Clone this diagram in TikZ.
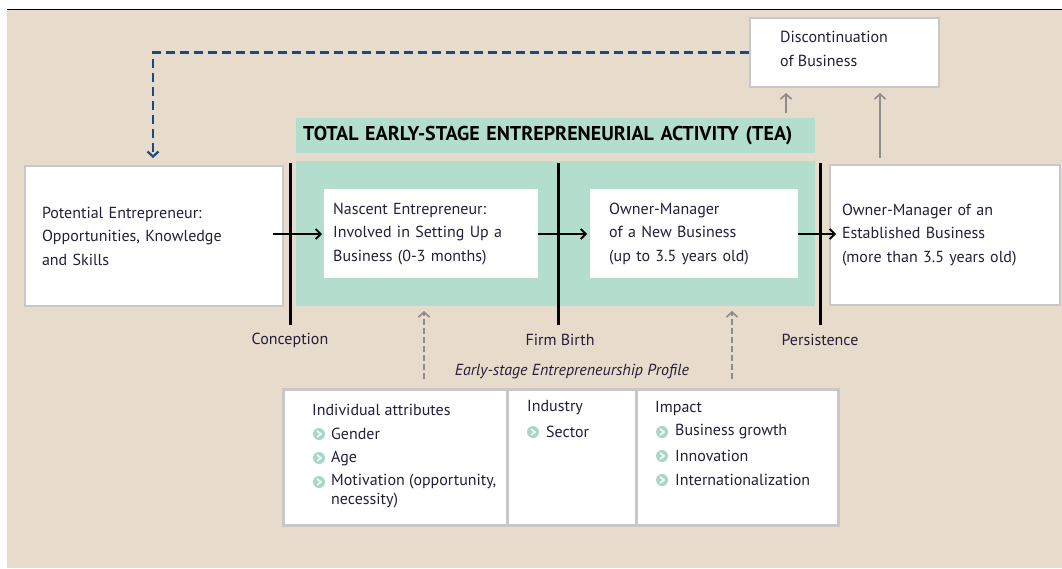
\documentclass[tikz,border=0pt]{standalone}
\usepackage{fontspec}
\setmainfont{PT Sans}
\usetikzlibrary{arrows.meta}
\definecolor{beige}{RGB}{231,220,203}
\definecolor{mint}{RGB}{179,222,206}
\definecolor{bul}{RGB}{168,216,197}
\definecolor{boxgray}{RGB}{200,200,200}
\definecolor{ink}{RGB}{38,30,58}
\definecolor{navy}{RGB}{28,74,128}
\definecolor{arrgray}{RGB}{140,140,140}
\tikzset{
  mainfont/.style={font=\fontsize{16}{23.5}\selectfont, text=ink},
  framebox/.style={mainfont, draw=boxgray, line width=2pt, fill=white, align=left, anchor=north west, inner ysep=0pt},
  plainbox/.style={mainfont, fill=white, align=left, anchor=north west, inner ysep=0pt},
  band/.style={fill=mint, anchor=north west, inner sep=0pt},
  txt/.style={mainfont, anchor=west, inner sep=0pt},
  lbl/.style={mainfont, inner sep=0pt},
  stage/.style={line width=3pt, black},
  flow/.style={line width=1.8pt, black, -{Straight Barb[length=5pt,width=10pt,line width=1.8pt]}},
  uparrow/.style={line width=1.6pt, arrgray, -{Straight Barb[length=5pt,width=11pt,line width=1.6pt]}},
  backloop/.style={line width=2.5pt, navy, dash pattern=on 9pt off 5pt, -{Straight Barb[length=5pt,width=11pt,line width=2.2pt]}},
  profarrow/.style={line width=1.6pt, arrgray, dash pattern=on 6pt off 3pt, -{Straight Barb[length=5pt,width=11pt,line width=1.6pt]}},
  bullet/.style={circle, fill=bul, minimum size=12pt, inner sep=0pt,
    path picture={\draw[white, line width=1.5pt] ([shift={(-2,-3)}]path picture bounding box.center) -- ++(4,3) -- ++(-4,3);}},
}
\begin{document}
\begin{tikzpicture}[x=1pt,y=-1pt]
\useasboundingbox (0,0) rectangle (1062,568);
\fill[white] (0,0) rectangle (1062,568);
\fill[beige] (7,10) rectangle (1062,568);
\draw[line width=1pt, black] (7,9.5) -- (1062,9.5);

% TEA bands
\node[band, minimum width=519pt, minimum height=35pt, text width=505pt, inner xsep=7pt, align=left,
      font=\fontsize{20}{22}\selectfont\bfseries, text=black] (teatitle) at (296,118)
      {TOTAL EARLY-STAGE ENTREPRENEURIAL ACTIVITY (TEA)};
\node[band, minimum width=519pt, minimum height=145pt] (tea) at (296,161) {};

% boxes
\node[framebox, text width=224pt, inner xsep=17pt, minimum height=140pt] (pot) at (24,165)
  {Potential Entrepreneur:\\Opportunities, Knowledge\\and Skills};
\node[plainbox, text width=196pt, inner xsep=9pt, minimum height=89pt] (nas) at (324,189)
  {Nascent Entrepreneur:\\Involved in Setting Up a\\Business (0-3 months)};
\node[plainbox, text width=170pt, inner xsep=19pt, minimum height=89pt] (own) at (590,189)
  {Owner-Manager\\of a New Business\\(up to 3.5 years old)};
\node[framebox, text width=206pt, inner xsep=12pt, minimum height=140pt] (est) at (829,164)
  {Owner-Manager of an\\Established Business\\(more than 3.5 years old)};
\node[framebox, minimum width=189pt, minimum height=69pt] (disc) at (749,17) {};
\node[txt] (disc1) at (780,37) {Discontinuation};
\node[txt] (disc2) at (780,61) {of Business};

% stage lines
\coordinate (c1t) at (290,163); \coordinate (c1b) at (290,325);
\coordinate (c2t) at (558,163); \coordinate (c2b) at (558,325);
\coordinate (c3t) at (820,163); \coordinate (c3b) at (820,325);
\draw[stage] (c1t) -- (c1b);
\draw[stage] (c2t) -- (c2b);
\draw[stage] (c3t) -- (c3b);
\node[lbl] (conc) at (290,340) {Conception};
\node[lbl] (birth) at (560,340) {Firm Birth};
\node[lbl] (pers) at (820,340) {Persistence};

% flow arrows
\coordinate (f1s) at (273,234);
\draw[flow] (f1s) -- ([xshift=-2pt]f1s -| nas.west);
\draw[flow] (nas.east |- f1s) -- ([xshift=-3pt]f1s -| own.west);
\draw[flow] (own.east |- f1s) -- ([xshift=7pt]f1s -| est.west);

% discontinuation arrows
\coordinate (d1s) at (786,113); \coordinate (d1e) at (786,93);
\coordinate (d2s) at (880,158); \coordinate (d2e) at (880,93);
\draw[uparrow] (d1s) -- (d1e);
\draw[uparrow] (d2s) -- (d2e);

% feedback loop
\coordinate (loopend) at (153,158);
\draw[backloop] (disc.west) -| (loopend);

% profile
\node[font=\fontsize{16}{18}\selectfont\itshape, text=ink, inner sep=0pt] (proflbl) at (572,372)
  {Early-stage Entrepreneurship Profile};
\coordinate (p1s) at (424,379); \coordinate (p1e) at (424,311);
\coordinate (p2s) at (732,379); \coordinate (p2e) at (732,311);
\draw[profarrow] (p1s) -- (p1e);
\draw[profarrow] (p2s) -- (p2e);

\node[draw=boxgray, line width=2.5pt, fill=white, anchor=north west, minimum width=224pt, minimum height=136pt, inner sep=0pt] (indiv) at (282,388) {};
\node[draw=boxgray, line width=2.5pt, fill=white, anchor=north west, minimum width=129pt, minimum height=136pt, inner sep=0pt] (ind) at (506,388) {};
\node[draw=boxgray, line width=2.5pt, fill=white, anchor=north west, minimum width=202pt, minimum height=136pt, inner sep=0pt] (imp) at (635,388) {};

\node[txt] (t1) at (312,410) {Individual attributes};
\node[bullet] (b1) at (319,434) {}; \node[txt] (t2) at (331,434) {Gender};
\node[bullet] (b2) at (319,458) {}; \node[txt] (t3) at (331,458) {Age};
\node[bullet] (b3) at (319,482) {}; \node[txt] (t4) at (331,482) {Motivation (opportunity,};
\node[txt] (t5) at (331,501) {necessity)};

\node[txt] (t6) at (527,408) {Industry};
\node[bullet] (b4) at (533,432) {}; \node[txt] (t7) at (546,432) {Sector};

\node[txt] (t8) at (655,408) {Impact};
\node[bullet] (b5) at (662,432) {}; \node[txt] (t9) at (675,432) {Business growth};
\node[bullet] (b6) at (662,456) {}; \node[txt] (t10) at (675,456) {Innovation};
\node[bullet] (b7) at (662,480) {}; \node[txt] (t11) at (675,480) {Internationalization};
\end{tikzpicture}
\end{document}
